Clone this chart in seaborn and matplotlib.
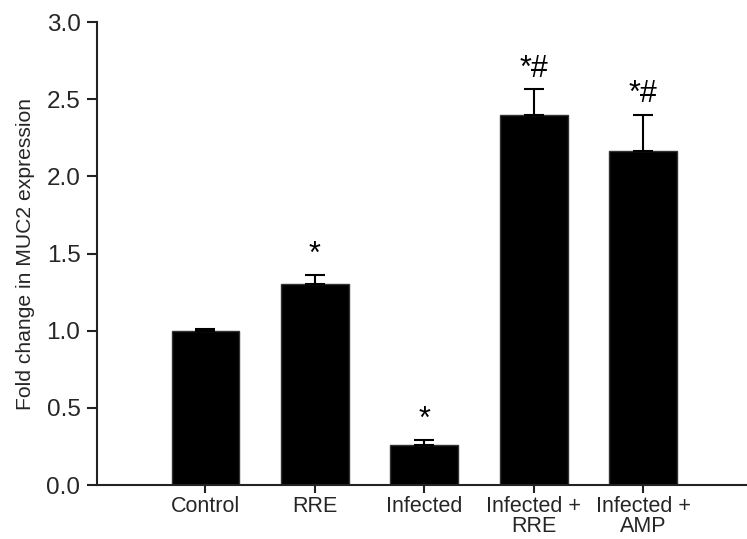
import matplotlib
matplotlib.use("Agg")
import matplotlib.pyplot as plt
import seaborn as sns
import numpy as np

categories = ["Control", "RRE", "Infected", "Infected +\nRRE", "Infected +\nAMP"]
values = [1.00, 1.30, 0.26, 2.40, 2.165]
errors = [0.01, 0.06, 0.03, 0.165, 0.235]
marks = ["", "*", "*", "*#", "*#"]
yticks = [0.0, 0.5, 1.0, 1.5, 2.0, 2.5, 3.0]

sns.set_style("ticks")
plt.rcParams['font.family'] = ['Liberation Sans', 'DejaVu Sans']

fig = plt.figure(figsize=(7.47, 5.39), dpi=100)
ax = fig.add_axes([0.130, 0.100, 0.870, 0.859])

sns.barplot(x=categories, y=values, color="black", width=0.62, ax=ax,
            edgecolor="#333333", linewidth=1.0, saturation=1)
x = np.arange(len(categories))
ax.errorbar(x, values, yerr=[np.zeros(len(errors)), errors], fmt="none",
            ecolor="black", elinewidth=1.5, capsize=7, capthick=1.5, zorder=3)
for xi, v, e, m in zip(x, values, errors, marks):
    if m:
        ax.text(xi, v + e + 0.035, m, ha="center", va="bottom", fontsize=22, color="black")

ax.set_xlim(-0.99, 4.95)
ax.set_ylim(0, 3.0)
ax.set_yticks(yticks)
ax.set_yticklabels([f"{t:.1f}" for t in yticks], fontsize=17.5)
ax.tick_params(axis="x", labelsize=15.5, length=6, width=1.5, direction="out", color="#222222", pad=2)
ax.tick_params(axis="y", length=7, width=1.5, direction="out", color="#222222", pad=5)
for lab in ax.get_xticklabels():
    lab.set_linespacing(0.95)
ax.set_ylabel("Fold change in MUC2 expression", fontsize=15.2, labelpad=8)
ax.set_xlabel("")
for s in ["top", "right"]:
    ax.spines[s].set_visible(False)
for s in ["left", "bottom"]:
    ax.spines[s].set_linewidth(1.5)
    ax.spines[s].set_color("#222222")

fig.savefig("out.png", dpi=100)
